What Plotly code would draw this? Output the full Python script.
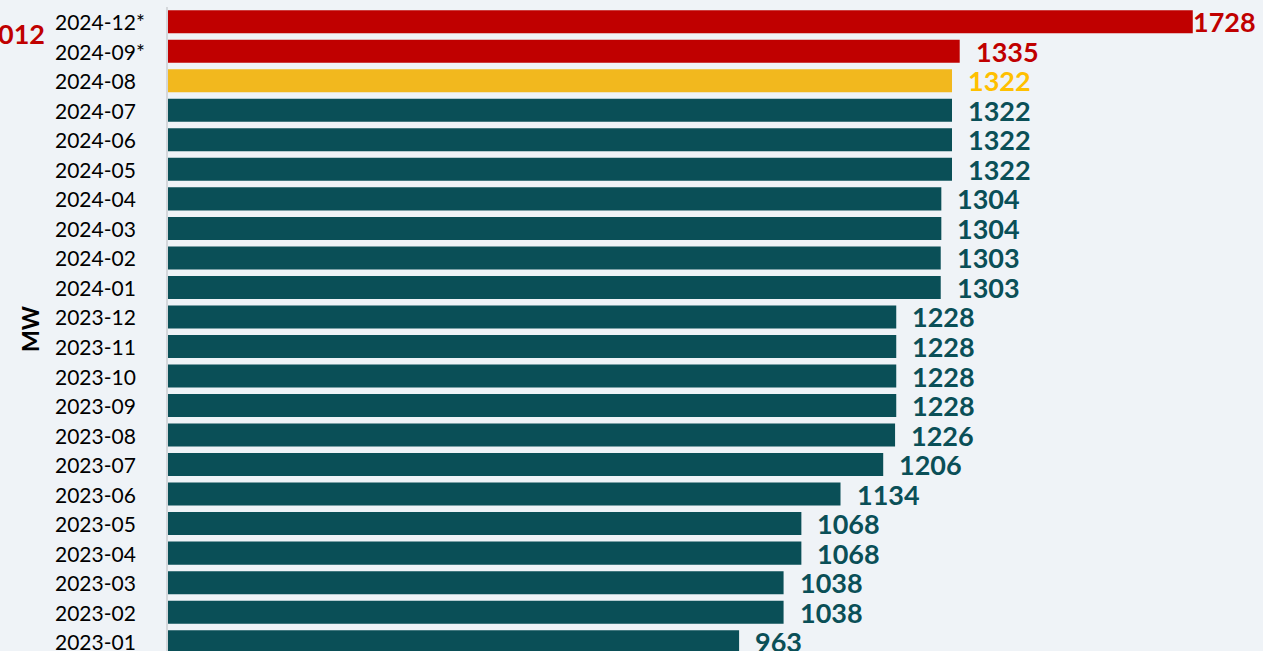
import plotly.graph_objects as go

months = ["2023-01", "2023-02", "2023-03", "2023-04", "2023-05", "2023-06",
          "2023-07", "2023-08", "2023-09", "2023-10", "2023-11", "2023-12",
          "2024-01", "2024-02", "2024-03", "2024-04", "2024-05", "2024-06",
          "2024-07", "2024-08", "2024-09*", "2024-12*"]
capacity_mw = [963, 1038, 1038, 1068, 1068, 1134, 1206, 1226, 1228, 1228, 1228, 1228,
               1303, 1303, 1304, 1304, 1322, 1322, 1322, 1322, 1335, 1728]
status = ["actual"] * 19 + ["current", "forecast", "forecast"]
side_note = "012"
axis_title = "MW"

BG = "#EFF3F7"
TEAL = "#0A4F57"
RED = "#C00000"
GOLD_BAR = "#F2B81E"
GOLD_TXT = "#FFC000"
bar_colors = {"actual": TEAL, "current": GOLD_BAR, "forecast": RED}
text_colors = {"actual": TEAL, "current": GOLD_TXT, "forecast": RED}

W, H = 1263, 651
ML, MT = 168, 7
plot_w = W - ML

fig = go.Figure(go.Bar(
    y=months, x=capacity_mw, orientation="h",
    marker=dict(color=[bar_colors[s] for s in status], line=dict(width=0)),
    hoverinfo="x+y",
))

annotations = []
for i, (m, v, s) in enumerate(zip(months, capacity_mw, status)):
    annotations.append(dict(
        x=v, y=m, xref="x", yref="y", text=str(v), showarrow=False,
        xanchor="left", yanchor="middle", xshift=(-2 if v == max(capacity_mw) else 14), yshift=0,
        font=dict(family="Lato", size=27, color=text_colors[s], weight="bold"),
    ))
    annotations.append(dict(
        x=(53 - ML) / plot_w, y=m, xref="paper", yref="y", text=m, showarrow=False,
        xanchor="left", yanchor="middle",
        font=dict(family="Lato", size=21, color="#000000"),
    ))

annotations.append(dict(
    x=(30 - ML) / plot_w, y=0.5, xref="paper", yref="paper",
    text=axis_title, textangle=-90, showarrow=False, xanchor="center", yanchor="middle",
    font=dict(family="Lato", size=23, color="#000000", weight="bold"),
))
annotations.append(dict(
    x=(47 - ML) / plot_w, y=1 - (33 - MT) / (H - MT), xref="paper", yref="paper",
    text=side_note, showarrow=False, xanchor="right", yanchor="middle",
    font=dict(family="Lato", size=27, color=RED, weight="bold"),
))

fig.update_layout(
    width=W, height=H,
    margin=dict(l=ML, r=0, t=MT, b=0),
    paper_bgcolor=BG, plot_bgcolor=BG,
    bargap=0.22,
    showlegend=False,
    annotations=annotations,
    xaxis=dict(range=[0, (W - ML) / ((952 - ML) / 1322)], showgrid=False, zeroline=False,
               showticklabels=False, showline=False, fixedrange=True),
    yaxis=dict(type="category", categoryorder="array", categoryarray=months,
               range=[21.5 - (H - MT) / 29.52, 21.5], showticklabels=False,
               showgrid=False, zeroline=False, showline=True, linecolor="#D4D7DB",
               linewidth=2, fixedrange=True),
)

fig.write_html("out.html", config={"displayModeBar": False},
               post_script="document.body.style.margin='0';document.body.style.overflow='hidden';")
